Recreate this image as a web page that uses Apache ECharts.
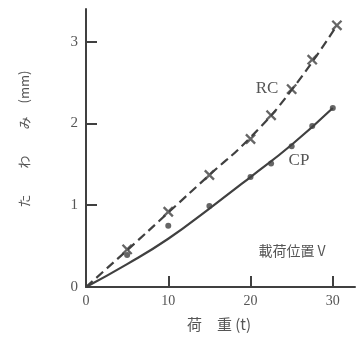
<!DOCTYPE html>
<html>
<head>
<meta charset="utf-8">
<script src="https://cdn.jsdelivr.net/npm/echarts@6/dist/echarts.min.js"></script>
<style>
html,body{margin:0;padding:0;background:#fff;}
#chart{width:364px;height:338px;}
</style>
</head>
<body>
<div id="chart"></div>
<script>
// Measured points
var rcLoads = [5, 10, 15, 20, 22.5, 25, 27.5, 30.5];
var rcDeflections = [0.46, 0.92, 1.37, 1.81, 2.10, 2.42, 2.78, 3.20];
var cpLoads = [5, 10, 15, 20, 22.5, 25, 27.5, 30];
var cpDeflections = [0.39, 0.75, 0.99, 1.345, 1.51, 1.72, 1.97, 2.19];
// Fitted curves
var rcCurveLoads = [0, 5, 10, 15, 20, 25, 30.5];
var rcCurveValues = [0, 0.45, 0.91, 1.37, 1.83, 2.41, 3.20];
var cpCurveLoads = [0, 5, 10, 15, 20, 25, 30];
var cpCurveValues = [0, 0.28, 0.59, 0.96, 1.345, 1.74, 2.19];
// Axis ticks
var xTicks = [0, 10, 20, 30];
var yTicks = [0, 1, 2, 3];

function pairs(xs, ys){ return xs.map(function(x,i){ return [x, ys[i]]; }); }

var ink = '#404040';
var txt = '#555';
var serif = '"Liberation Serif", "DejaVu Serif", serif';
var cjk = '"Noto Sans CJK JP", sans-serif';
var plus = 'path://M4.1,0H5.9V4.1H10V5.9H5.9V10H4.1V5.9H0V4.1H4.1Z';

var chart = echarts.init(document.getElementById('chart'));
chart.setOption({
  animation: false,
  backgroundColor: '#fff',
  grid: {left: 86, right: 9, top: 9, bottom: 51},
  xAxis: {
    type: 'value', min: 0, max: 32.7, interval: 10,
    axisLine: {lineStyle: {color: ink, width: 2}},
    axisTick: {inside: true, length: 11, customValues: xTicks.slice(1), lineStyle: {color: ink, width: 2}},
    axisLabel: {customValues: xTicks, color: txt, fontFamily: serif, fontSize: 14, margin: 7},
    splitLine: {show: false}
  },
  yAxis: {
    type: 'value', min: 0, max: 3.4, interval: 1,
    axisLine: {show: true, lineStyle: {color: ink, width: 2}},
    axisTick: {show: true, inside: true, length: 11, customValues: yTicks.slice(1), lineStyle: {color: ink, width: 2}},
    axisLabel: {customValues: yTicks, color: txt, fontFamily: serif, fontSize: 15, margin: 8},
    splitLine: {show: false}
  },
  series: [
    {type: 'line', data: pairs(rcCurveLoads, rcCurveValues), smooth: true, symbol: 'none',
     lineStyle: {color: ink, width: 2.2, type: [9, 5]}},
    {type: 'line', data: pairs(cpCurveLoads, cpCurveValues), smooth: true, symbol: 'none',
     lineStyle: {color: ink, width: 2.2}},
    {type: 'scatter', data: pairs(rcLoads, rcDeflections), symbol: plus, symbolSize: 13, symbolRotate: 45,
     itemStyle: {color: ink}},
    {type: 'scatter', data: pairs(cpLoads, cpDeflections), symbol: 'circle', symbolSize: 6,
     itemStyle: {color: ink}}
  ],
  graphic: [
    {type: 'text', x: 267, y: 89, style: {text: 'RC', font: '17px ' + serif, fill: txt, align: 'center', verticalAlign: 'middle'}},
    {type: 'text', x: 299, y: 161, style: {text: 'CP', font: '17px ' + serif, fill: txt, align: 'center', verticalAlign: 'middle'}},
    {type: 'text', x: 292, y: 251, style: {text: '載荷位置 V', font: '14px ' + cjk, fill: txt, align: 'center', verticalAlign: 'middle'}},
    {type: 'text', x: 219, y: 324, style: {text: '荷　重 (t)', font: '15px ' + cjk, fill: txt, align: 'center', verticalAlign: 'middle'}},
    {type: 'text', x: 24, y: 139, rotation: Math.PI / 2, style: {text: 'た　　わ　　み　(mm)', font: '13px ' + cjk, fill: txt, align: 'center', verticalAlign: 'middle'}}
  ]
});
</script>
</body>
</html>
